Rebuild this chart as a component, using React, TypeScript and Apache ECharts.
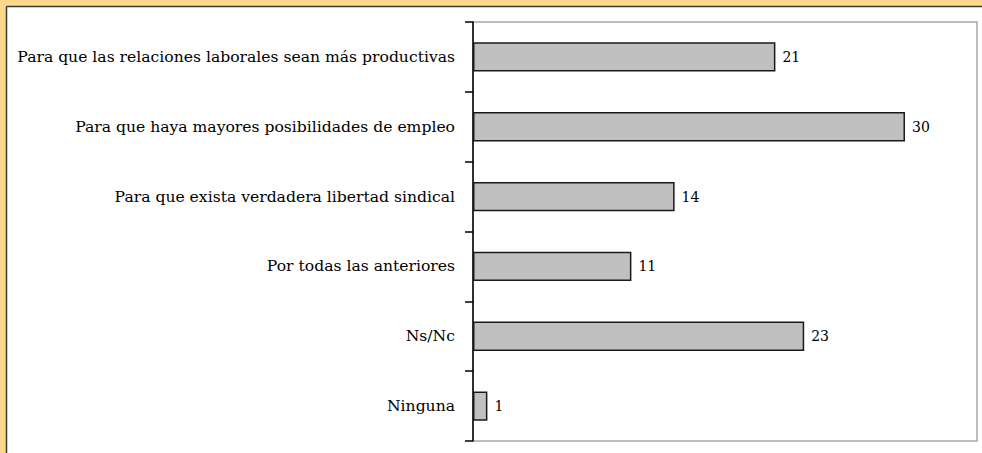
import React, { useEffect, useRef } from "react";
import * as echarts from "echarts";

const categories: string[] = [
  "Para que las relaciones laborales sean más productivas",
  "Para que haya mayores posibilidades de empleo",
  "Para que exista verdadera libertad sindical",
  "Por todas las anteriores",
  "Ns/Nc",
  "Ninguna",
];
const values: number[] = [21, 30, 14, 11, 23, 1];
const axisMax = 35;

export default function App() {
  const ref = useRef<HTMLDivElement>(null);
  useEffect(() => {
    document.body.style.margin = "0";
    const chart = echarts.init(ref.current!, null, { renderer: "svg" });
    const serif = "DejaVu Serif";
    chart.setOption({
      animation: false,
      backgroundColor: "#FFD98A",
      graphic: [
        { type: "rect", z: -20, shape: { x: 7, y: 7, width: 982, height: 453 }, style: { fill: "#ffffff" } },
        { type: "line", z: -19, shape: { x1: 6.5, y1: 6.5, x2: 982, y2: 6.5 }, style: { stroke: "#3a3a3a", lineWidth: 1.5 } },
        { type: "line", z: -19, shape: { x1: 6.5, y1: 6.5, x2: 6.5, y2: 453 }, style: { stroke: "#3a3a3a", lineWidth: 1.5 } },
      ],
      grid: {
        left: 473,
        right: 5,
        top: 22,
        bottom: 12,
        show: true,
        backgroundColor: "#ffffff",
        borderColor: "#a6a6a6",
        borderWidth: 1.5,
        containLabel: false,
      },
      xAxis: {
        type: "value",
        min: 0,
        max: axisMax,
        show: false,
        splitLine: { show: false },
      },
      yAxis: {
        type: "category",
        data: categories,
        inverse: true,
        axisLine: { show: true, lineStyle: { color: "#000000", width: 1.5 } },
        axisTick: { show: true, length: 8, lineStyle: { color: "#000000", width: 1.5 } },
        axisLabel: {
          margin: 18,
          color: "#000000",
          fontFamily: serif,
          fontSize: 15.6,
        },
        splitLine: { show: false },
      },
      series: [
        {
          type: "bar",
          data: values,
          barWidth: "42%",
          itemStyle: { color: "#C0C0C0", borderColor: "#1a1a1a", borderWidth: 1.5 },
          label: {
            show: true,
            position: "right",
            distance: 7,
            color: "#000000",
            fontFamily: serif,
            fontSize: 14,
          },
        },
      ],
    });
    return () => chart.dispose();
  }, []);
  return <div ref={ref} style={{ width: 982, height: 453 }} />;
}
